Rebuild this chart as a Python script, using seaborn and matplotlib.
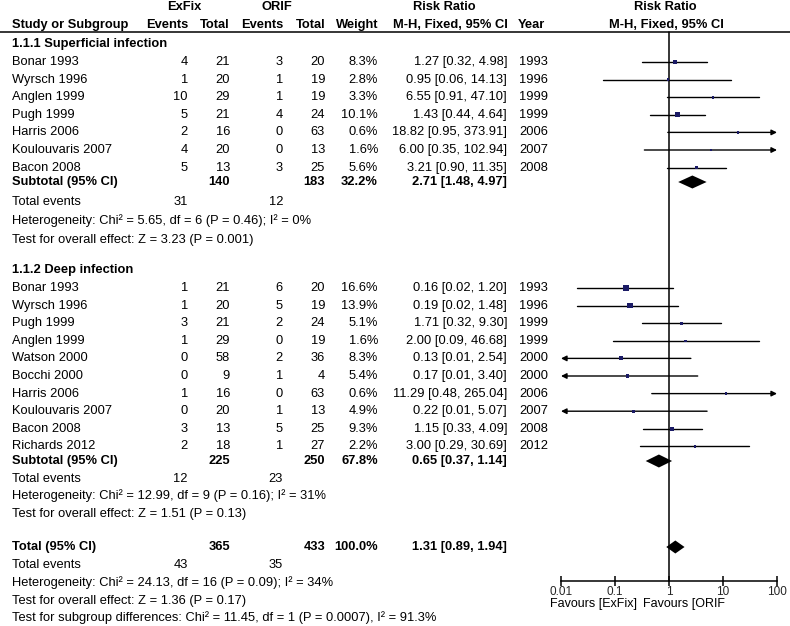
import numpy as np
import pandas as pd
import matplotlib
matplotlib.use("Agg")
import matplotlib.pyplot as plt
import seaborn as sns

# 1.1.1 Superficial infection
sup_study = ["Bonar 1993", "Wyrsch 1996", "Anglen 1999", "Pugh 1999",
             "Harris 2006", "Koulouvaris 2007", "Bacon 2008"]
sup_ex_ev = [4, 1, 10, 5, 2, 4, 5]
sup_ex_n = [21, 20, 29, 21, 16, 20, 13]
sup_or_ev = [3, 1, 1, 4, 0, 0, 3]
sup_or_n = [20, 19, 19, 24, 63, 13, 25]
sup_w = [8.3, 2.8, 3.3, 10.1, 0.6, 1.6, 5.6]
sup_rr = [1.27, 0.95, 6.55, 1.43, 18.82, 6.00, 3.21]
sup_lo = [0.32, 0.06, 0.91, 0.44, 0.95, 0.35, 0.90]
sup_hi = [4.98, 14.13, 47.10, 4.64, 373.91, 102.94, 11.35]
sup_year = [1993, 1996, 1999, 1999, 2006, 2007, 2008]

# 1.1.2 Deep infection
deep_study = ["Bonar 1993", "Wyrsch 1996", "Pugh 1999", "Anglen 1999",
              "Watson 2000", "Bocchi 2000", "Harris 2006", "Koulouvaris 2007",
              "Bacon 2008", "Richards 2012"]
deep_ex_ev = [1, 1, 3, 1, 0, 0, 1, 0, 3, 2]
deep_ex_n = [21, 20, 21, 29, 58, 9, 16, 20, 13, 18]
deep_or_ev = [6, 5, 2, 0, 2, 1, 0, 1, 5, 1]
deep_or_n = [20, 19, 24, 19, 36, 4, 63, 13, 25, 27]
deep_w = [16.6, 13.9, 5.1, 1.6, 8.3, 5.4, 0.6, 4.9, 9.3, 2.2]
deep_rr = [0.16, 0.19, 1.71, 2.00, 0.13, 0.17, 11.29, 0.22, 1.15, 3.00]
deep_lo = [0.02, 0.02, 0.32, 0.09, 0.01, 0.01, 0.48, 0.01, 0.33, 0.29]
deep_hi = [1.20, 1.48, 9.30, 46.68, 2.54, 3.40, 265.04, 5.07, 4.09, 30.69]
deep_year = [1993, 1996, 1999, 1999, 2000, 2000, 2006, 2007, 2008, 2012]

# pooled results: [ExFix total, ORIF total, weight, rr, lo, hi, ExFix events, ORIF events]
sup_pool = [140, 183, 32.2, 2.71, 1.48, 4.97, 31, 12]
deep_pool = [225, 250, 67.8, 0.65, 0.37, 1.14, 12, 23]
all_pool = [365, 433, 100.0, 1.31, 0.89, 1.94, 43, 35]

sup_het = "Heterogeneity: Chi\u00b2 = 5.65, df = 6 (P = 0.46); I\u00b2 = 0%"
sup_test = "Test for overall effect: Z = 3.23 (P = 0.001)"
deep_het = "Heterogeneity: Chi\u00b2 = 12.99, df = 9 (P = 0.16); I\u00b2 = 31%"
deep_test = "Test for overall effect: Z = 1.51 (P = 0.13)"
all_het = "Heterogeneity: Chi\u00b2 = 24.13, df = 16 (P = 0.09); I\u00b2 = 34%"
all_test = "Test for overall effect: Z = 1.36 (P = 0.17)"
sub_test = "Test for subgroup differences: Chi\u00b2 = 11.45, df = 1 (P = 0.0007), I\u00b2 = 91.3%"

tick_vals = [0.01, 0.1, 1, 10, 100]
tick_labels = ["0.01", "0.1", "1", "10", "100"]

sns.set_style("white")
plt.rcParams["font.family"] = ["Liberation Sans", "DejaVu Sans"]
plt.rcParams["font.size"] = 9

W, H = 790, 626
AX_Y = 581
FS = 9.3
fig = plt.figure(figsize=(W / 100, H / 100), dpi=100)
tab = fig.add_axes([0, 0, 1, 1])
tab.set_xlim(0, W)
tab.set_ylim(H, 0)
tab.axis("off")

fp = fig.add_axes([561 / W, (H - AX_Y) / H, 216 / W, AX_Y / H])
fp.patch.set_visible(False)
fp.set_xscale("log")
fp.set_xlim(0.01, 100)
fp.set_ylim(AX_Y, 0)

# column x positions (pixels)
X_NAME, X_EXEV, X_EXN, X_OREV, X_ORN, X_W, X_RR, X_YEAR = 12, 188, 230, 283, 325, 378, 507, 519


def put(x, y, s, ha="left", bold=False, va="center", fs=FS):
    tab.text(x, y, s, ha=ha, va=va, fontweight="bold" if bold else "normal",
             fontsize=fs, color="black")


def fmt_rr(rr, lo, hi):
    return "{:.2f} [{:.2f}, {:.2f}]".format(rr, lo, hi)


# header
put(184, 7, "ExFix", "center", True)
put(277, 7, "ORIF", "center", True)
put(444, 7, "Risk Ratio", "center", True)
put(665, 7, "Risk Ratio", "center", True)
put(X_NAME, 25, "Study or Subgroup", bold=True)
put(X_EXEV, 25, "Events", "right", True)
put(X_EXN, 25, "Total", "right", True)
put(X_OREV, 25, "Events", "right", True)
put(X_ORN, 25, "Total", "right", True)
put(X_W, 25, "Weight", "right", True)
put(508, 25, "M-H, Fixed, 95% CI", "right", True)
put(X_YEAR - 1, 25, "Year", bold=True)
put(666, 25, "M-H, Fixed, 95% CI", "center", True)
tab.axhline(32, color="black", lw=1.1)


def group(title, y_title, ys, study, exev, exn, orev, orn, w, rr, lo, hi, year):
    put(X_NAME, y_title, title, bold=True)
    for i, y in enumerate(ys):
        put(X_NAME, y, study[i])
        put(X_EXEV, y, str(exev[i]), "right")
        put(X_EXN, y, str(exn[i]), "right")
        put(X_OREV, y, str(orev[i]), "right")
        put(X_ORN, y, str(orn[i]), "right")
        put(X_W, y, "{:.1f}%".format(w[i]), "right")
        put(X_RR, y, fmt_rr(rr[i], lo[i], hi[i]), "right")
        put(X_YEAR, y, str(year[i]))
        a = max(lo[i], 0.01)
        b = min(hi[i], 100)
        if hi[i] > 100:
            fp.annotate("", xy=(100, y), xytext=(a, y), annotation_clip=False,
                        arrowprops=dict(arrowstyle="-|>", color="black", lw=1.0,
                                        mutation_scale=8, shrinkA=0, shrinkB=0))
        elif lo[i] <= 0.01:
            fp.annotate("", xy=(0.01, y), xytext=(b, y), annotation_clip=False,
                        arrowprops=dict(arrowstyle="-|>", color="black", lw=1.0,
                                        mutation_scale=8, shrinkA=0, shrinkB=0))
        else:
            fp.plot([a, b], [y, y], color="black", lw=1.0, clip_on=False)
    df = pd.DataFrame({"rr": rr, "y": ys, "w": w})
    side = np.maximum(2.5, 1.45 * np.sqrt(df["w"])) * 0.72
    sns.scatterplot(data=df, x="rr", y="y", ax=fp, marker="s", color="#1b1b66",
                    s=side ** 2, linewidth=0, zorder=5, legend=False)


def pooled(y_sub, label, pool, y_ev, het, test, y_het, y_test):
    put(X_NAME, y_sub, label, bold=True)
    put(X_EXN, y_sub, str(pool[0]), "right", True)
    put(X_ORN, y_sub, str(pool[1]), "right", True)
    put(X_W, y_sub, "{:.1f}%".format(pool[2]), "right", True)
    put(X_RR, y_sub, fmt_rr(pool[3], pool[4], pool[5]), "right", True)
    fp.fill([pool[4], pool[3], pool[5], pool[3]],
            [y_sub, y_sub - 6.5, y_sub, y_sub + 6.5], color="black", lw=0, zorder=6)
    put(X_NAME, y_ev, "Total events")
    put(X_EXEV, y_ev, str(pool[6]), "right")
    put(X_OREV, y_ev, str(pool[7]), "right")
    put(X_NAME, y_het, het)
    put(X_NAME, y_test, test)


ys_sup = 62 + 17.6 * np.arange(len(sup_study))
group("1.1.1 Superficial infection", 44, ys_sup, sup_study, sup_ex_ev, sup_ex_n,
      sup_or_ev, sup_or_n, sup_w, sup_rr, sup_lo, sup_hi, sup_year)
pooled(182, "Subtotal (95% CI)", sup_pool, 202, sup_het, sup_test, 221, 240)

ys_deep = 288 + 17.6 * np.arange(len(deep_study))
group("1.1.2 Deep infection", 270, ys_deep, deep_study, deep_ex_ev, deep_ex_n,
      deep_or_ev, deep_or_n, deep_w, deep_rr, deep_lo, deep_hi, deep_year)
pooled(461, "Subtotal (95% CI)", deep_pool, 479, deep_het, deep_test, 496, 514)

pooled(547, "Total (95% CI)", all_pool, 565, all_het, all_test, 583, 601)
put(X_NAME, 618, sub_test)

# line of no effect and axis
fp.plot([1, 1], [32, AX_Y], color="black", lw=1.1, clip_on=False)
for s in ["top", "left", "right"]:
    fp.spines[s].set_visible(False)
fp.spines["bottom"].set_linewidth(1.1)
fp.spines["bottom"].set_color("black")
fp.set_xticks(tick_vals)
fp.set_xticklabels(tick_labels)
fp.minorticks_off()
fp.tick_params(axis="x", direction="inout", length=7, width=1.1, pad=0,
               labelsize=8.5, color="black", bottom=True)
fp.set_yticks([])
fp.set_xlabel("")
fp.set_ylabel("")

put(637, 597.5, "Favours [ExFix]", "right", va="top", fs=9)
put(643, 597.5, "Favours [ORIF", va="top", fs=9)

fig.savefig("out.png", dpi=100)
